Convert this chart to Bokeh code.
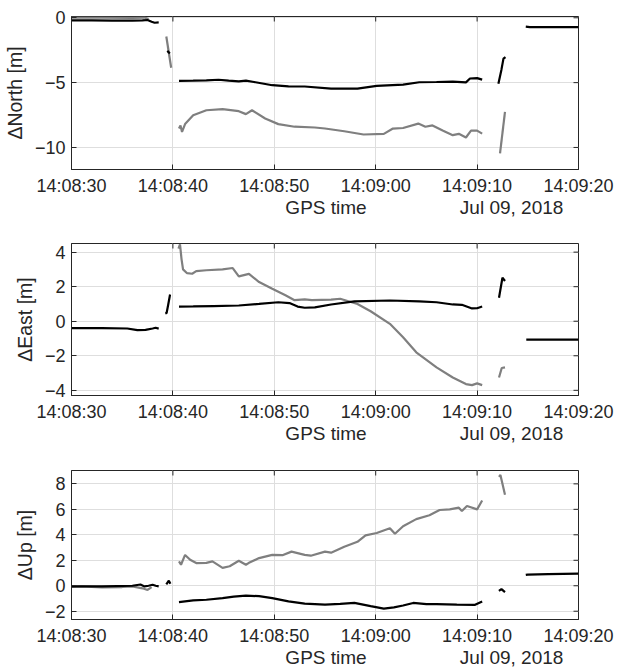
import numpy as np
from bokeh.plotting import figure
from bokeh.layouts import column
from bokeh.models import (Range1d, DatetimeTickFormatter, SingleIntervalTicker,
                          FixedTicker, LinearAxis)
from bokeh.embed import file_html
from bokeh.resources import INLINE

# ---------------- data (seconds after 14:08:30, metres) ----------------
START = "2018-07-09T14:08:30"
X_SPAN_S = 50
X_TICK_S = 10
GPS_LABEL = "GPS time"
DATE_LABEL = "Jul 09, 2018"

north_yticks = [-10, -5, 0]
east_yticks = [-4, -2, 0, 2, 4]
up_yticks = [-2, 0, 2, 4, 6, 8]

north_black = [
    ([0, 2, 4, 6, 7, 7.5, 7.9, 8.2, 8.6], [-0.2, -0.2, -0.22, -0.22, -0.2, -0.17, -0.3, -0.38, -0.36]),
    ([9.45, 9.7], [-2.55, -2.75]),
    ([10.6, 12, 13.3, 14.5, 15.5, 16.5, 17.2, 18, 19.8, 21.4, 23, 25.6, 28.2, 30.1, 32.7,
      34.3, 36, 37.6, 38.9, 39.3, 40.0, 40.5],
     [-4.87, -4.85, -4.82, -4.78, -4.85, -4.9, -4.85, -4.95, -5.2, -5.29, -5.3, -5.46, -5.46,
      -5.25, -5.15, -4.97, -4.95, -4.92, -4.98, -4.68, -4.65, -4.77]),
    ([42.1, 42.4, 42.6, 42.8], [-5.08, -4.0, -3.15, -3.03]),
    ([44.8, 45.2, 47, 50], [-0.68, -0.72, -0.72, -0.72]),
]
north_gray = [
    ([0, 3, 6, 7.2, 7.6], [0.02, 0.02, 0.0, 0.02, -0.1]),
    ([9.35, 9.83], [-1.44, -3.85]),
    ([10.6, 10.75, 10.9, 11.2, 12, 13.3, 14.9, 16.5, 17.2, 17.8, 19.1, 20.4, 22, 24, 25,
      26.9, 28.8, 30.8, 31.7, 32.7, 34.2, 34.9, 35.6, 36.6, 37.6, 38.2, 38.9, 39.4, 40.0, 40.5],
     [-8.54, -8.3, -8.8, -8.2, -7.52, -7.13, -7.05, -7.2, -7.43, -7.13, -7.77, -8.2, -8.4,
      -8.46, -8.54, -8.75, -9.0, -8.95, -8.54, -8.5, -8.16, -8.4, -8.3, -8.7, -9.05, -8.95,
      -9.23, -8.7, -8.7, -8.93]),
    ([42.26, 42.75], [-10.46, -7.26]),
]

east_black = [
    ([0, 3, 5.5, 6.5, 7.3, 8, 8.3, 8.6], [-0.4, -0.4, -0.42, -0.52, -0.5, -0.42, -0.38, -0.43]),
    ([9.25, 9.38, 9.55, 9.72], [0.45, 0.48, 1.0, 1.55]),
    ([10.6, 12, 14, 16.5, 18.5, 20.4, 21.5, 22.3, 23, 24, 25.6, 27.9, 31.4, 34.3, 36, 37.6,
      38.5, 39.5, 40, 40.5],
     [0.85, 0.86, 0.88, 0.91, 1.0, 1.1, 1.05, 0.85, 0.78, 0.8, 0.97, 1.15, 1.2, 1.15, 1.1,
      0.97, 0.95, 0.74, 0.75, 0.85]),
    ([42.16, 42.5, 42.75], [1.36, 2.52, 2.33]),
    ([44.85, 47, 50], [-1.06, -1.06, -1.06]),
]
east_gray = [
    ([10.55, 10.7, 10.85, 11.0, 11.4, 11.9, 12.3, 13.3, 14.9, 15.9, 16.5, 17.5, 18.5, 19.8,
      21.1, 22.0, 23.0, 23.7, 25.6, 26.5, 28.2, 29.5, 31.4, 32.7, 34.0, 36.0, 37.6, 38.9,
      39.5, 40.0, 40.5],
     [4.2, 4.45, 3.6, 3.0, 2.78, 2.75, 2.9, 2.95, 3.0, 3.08, 2.6, 2.74, 2.27, 1.88, 1.5,
      1.22, 1.26, 1.22, 1.25, 1.3, 1.0, 0.58, -0.15, -0.93, -1.8, -2.67, -3.26, -3.64,
      -3.7, -3.6, -3.7]),
    ([42.16, 42.43, 42.75], [-3.26, -2.71, -2.67]),
]

up_black = [
    ([0, 3, 6, 6.8, 7.2, 7.6, 8.0, 8.3, 8.6], [-0.05, -0.05, 0.0, 0.1, -0.05, 0.0, 0.08, 0.0, -0.05]),
    ([9.35, 9.6, 9.75], [0.1, 0.4, 0.15]),
    ([10.6, 12, 13.3, 14.9, 16, 17.2, 18.5, 19.8, 21.4, 23, 25, 26.5, 27.9, 29.5, 30.8, 31.8,
      32.7, 33.7, 35, 36, 38, 39.8, 40.5],
     [-1.28, -1.15, -1.1, -0.97, -0.85, -0.77, -0.82, -0.97, -1.23, -1.41, -1.48, -1.42,
      -1.35, -1.6, -1.79, -1.7, -1.55, -1.35, -1.45, -1.45, -1.48, -1.5, -1.23]),
    ([42.15, 42.4, 42.75], [-0.4, -0.26, -0.5]),
    ([44.8, 45.0, 47, 50], [0.85, 0.88, 0.92, 0.95]),
]
up_gray = [
    ([0, 1, 3, 5, 6, 7, 7.5, 7.9], [-0.1, -0.05, -0.12, -0.1, -0.05, -0.2, -0.33, -0.1]),
    ([10.6, 10.8, 11.2, 11.7, 12.3, 13.3, 13.9, 14.9, 15.6, 16.5, 17.2, 17.5, 18.5, 19.8,
      20.8, 21.7, 23, 23.6, 25, 25.6, 26.9, 28.2, 29, 30.1, 31.4, 31.9, 32.7, 34, 35.3,
      36.3, 37.3, 38.2, 38.5, 39, 40, 40.5],
     [1.91, 1.65, 2.42, 2.04, 1.78, 1.8, 1.91, 1.4, 1.53, 1.96, 1.65, 1.8, 2.17, 2.42, 2.4,
      2.68, 2.42, 2.36, 2.68, 2.6, 3.06, 3.45, 3.96, 4.14, 4.52, 4.08, 4.67, 5.23, 5.54,
      5.95, 6.0, 6.13, 5.87, 6.26, 6.0, 6.69]),
    ([42.16, 42.3, 42.75], [8.55, 8.7, 7.15]),
]

# ---------------- styling ----------------
AX = "#262626"
GRID = "#dedede"
FONT = "Liberation Sans"
BLACK = "#000000"
GRAY = "#7f7f7f"

t0_ms = float(np.datetime64(START, "ms").astype("int64"))
t1_ms = t0_ms + X_SPAN_S * 1000.0
x_tick_ms = [t0_ms + s * 1000.0 for s in range(0, X_SPAN_S + 1, X_TICK_S)]


def to_xy(segments):
    xs = [list(t0_ms + np.asarray(t, dtype=float) * 1000.0) for t, v in segments]
    ys = [list(map(float, v)) for t, v in segments]
    return xs, ys


def panel(ylabel, yrange, yticks, gray, black, height, mbt, mbb):
    p = figure(width=616, height=height, x_axis_type="datetime",
               x_range=Range1d(t0_ms, t1_ms),
               y_range=Range1d(*yrange),
               output_backend="svg", toolbar_location=None,
               min_border_left=63, min_border_right=38, min_border_top=mbt,
               min_border_bottom=mbb,
               outline_line_color=AX, outline_line_width=1,
               background_fill_color="white", border_fill_color="white")
    xt = SingleIntervalTicker(interval=X_TICK_S * 1000, num_minor_ticks=0)
    yt = FixedTicker(ticks=yticks, minor_ticks=[])

    p.xaxis.ticker = xt
    p.xaxis.formatter = DatetimeTickFormatter(
        milliseconds="%H:%M:%S", seconds="%H:%M:%S", minsec="%H:%M:%S",
        minutes="%H:%M:%S", hourmin="%H:%M:%S", hours="%H:%M:%S")
    p.yaxis.ticker = yt
    p.xgrid.ticker = xt
    p.ygrid.ticker = yt
    for g in (p.xgrid, p.ygrid):
        g.grid_line_color = GRID
        g.grid_line_width = 1

    for ax in (p.xaxis, p.yaxis):
        ax.axis_line_color = AX
        ax.major_tick_line_color = AX
        ax.minor_tick_line_color = None
        ax.major_tick_in = 5
        ax.major_tick_out = 0
        ax.major_label_text_font = FONT
        ax.major_label_text_font_size = "18px"
        ax.major_label_text_color = AX
    p.xaxis.major_label_standoff = 6
    p.yaxis.major_label_standoff = 6
    p.yaxis.axis_label = ylabel
    p.yaxis.axis_label_text_font = FONT
    p.yaxis.axis_label_text_font_size = "19.5px"
    p.yaxis.axis_label_text_font_style = "normal"
    p.yaxis.axis_label_text_color = AX
    p.yaxis.axis_label_standoff = 6

    # second line under the time axis: "GPS time" and the date
    p.extra_x_ranges = {"lab": Range1d(0, X_SPAN_S)}
    lab = LinearAxis(x_range_name="lab",
                     ticker=FixedTicker(ticks=[25.1, 43.4], minor_ticks=[]),
                     major_label_overrides={25.1: GPS_LABEL, 43.4: DATE_LABEL},
                     axis_line_color=None, major_tick_line_color=None,
                     minor_tick_line_color=None, major_tick_in=0, major_tick_out=0,
                     major_label_standoff=-2,
                     major_label_text_font=FONT, major_label_text_font_size="19px",
                     major_label_text_color=AX)
    p.add_layout(lab, "below")

    gx, gy = to_xy(gray)
    bx, by = to_xy(black)
    p.multi_line(gx, gy, line_color=GRAY, line_width=2.2)
    p.multi_line(bx, by, line_color=BLACK, line_width=2.2)

    # inward ticks on the top and right edges (box on)
    p.ray(x=x_tick_ms, y=[yrange[1]] * len(x_tick_ms), length=5, length_units="screen",
          angle=-np.pi / 2, line_color=AX, line_width=1)
    p.ray(x=[t1_ms] * len(yticks), y=yticks, length=5, length_units="screen",
          angle=np.pi, line_color=AX, line_width=1)
    return p


p1 = panel("\u0394North [m]", (-11.7, 0.1), north_yticks, north_gray, north_black, 231, 16, 62)
p2 = panel("\u0394East [m]", (-4.3, 4.5), east_yticks, east_gray, east_black, 227, 12, 63)
p3 = panel("\u0394Up [m]", (-2.65, 9.05), up_yticks, up_gray, up_black, 212, 12, 47)

layout = column(p1, p2, p3, spacing=0)
open("out.html", "w").write(file_html(layout, INLINE))
